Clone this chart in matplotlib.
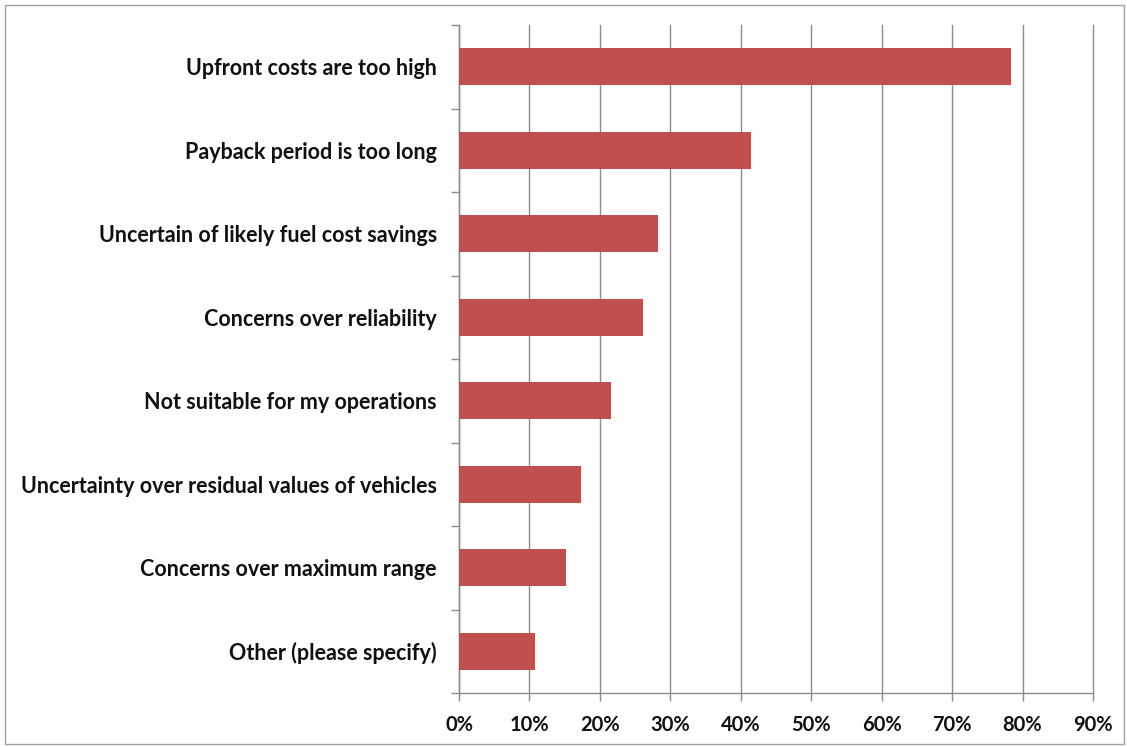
import matplotlib.pyplot as plt
from matplotlib.patches import Rectangle
from matplotlib.ticker import FixedLocator, PercentFormatter

# -- data ---------------------------------------------------------------------
reasons = [
    "Upfront costs are too high",
    "Payback period is too long",
    "Uncertain of likely fuel cost savings",
    "Concerns over reliability",
    "Not suitable for my operations",
    "Uncertainty over residual values of vehicles",
    "Concerns over maximum range",
    "Other (please specify)",
]
share = [78.4, 41.4, 28.3, 26.1, 21.6, 17.3, 15.2, 10.8]

# -- style --------------------------------------------------------------------
plt.rcParams["font.family"] = ["Lato", "DejaVu Sans"]
bar_col = "#C0504D"
grid_col = "#8C8C8C"

W, H = 1127, 747
fig = plt.figure(figsize=(W / 100, H / 100), dpi=100)
ax = fig.add_axes([459 / W, 1 - 693 / H, (1093 - 459) / W, (693 - 25) / H])

n = len(reasons)
ypos = list(range(n))[::-1]
ax.barh(ypos, share, height=0.44, color=bar_col, zorder=3)

ax.set_xlim(0, 90)
ax.set_ylim(-0.5, n - 0.5)
ax.xaxis.set_major_locator(FixedLocator(range(0, 91, 10)))
ax.xaxis.set_major_formatter(PercentFormatter(decimals=0))
ax.grid(axis="x", color=grid_col, linewidth=1.0, zorder=0)
ax.set_axisbelow(True)
for gl in ax.get_xgridlines():
    gl.set_clip_on(False)

ax.set_yticks(ypos)
ax.set_yticklabels(reasons, fontsize=15.5, fontweight="bold", color="#111111")
ax.tick_params(axis="y", length=0, pad=16)
ax.set_yticks([i - 0.5 for i in range(n + 1)], minor=True)
ax.tick_params(axis="y", which="minor", length=6, color=grid_col, width=1)
ax.tick_params(axis="x", length=6, color=grid_col, width=1, labelsize=14.5,
               pad=10, labelcolor="#111111")
for lab in ax.get_xticklabels():
    lab.set_fontweight("bold")

for side in ("top", "right"):
    ax.spines[side].set_visible(False)
for side in ("left", "bottom"):
    ax.spines[side].set_color(grid_col)
    ax.spines[side].set_linewidth(1.0)

# outer chart frame
fig.patches.append(Rectangle((5 / W, 3 / H), (W - 8) / W, (H - 8) / H,
                             transform=fig.transFigure, fill=False,
                             edgecolor="#A0A0A0", linewidth=1.0))

fig.savefig("out.png", dpi=100)
